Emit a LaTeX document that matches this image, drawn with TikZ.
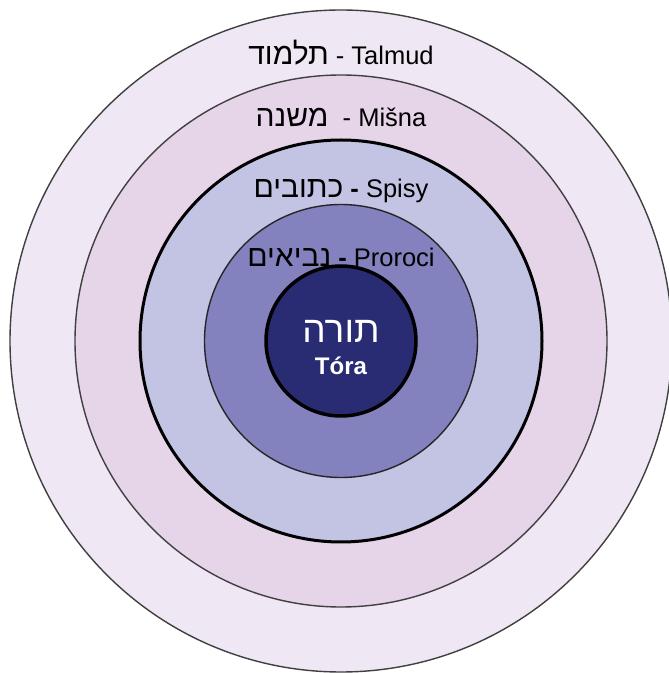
\documentclass[tikz,border=0pt]{standalone}
\usepackage{fontspec}
\setmainfont{Liberation Sans}
\newfontfamily\hebfont[Script=Hebrew]{Liberation Sans}
\TeXXeTstate=1
\definecolor{ringA}{HTML}{EFE7F4}
\definecolor{ringB}{HTML}{E6D4E8}
\definecolor{ringC}{HTML}{C3C3E3}
\definecolor{ringD}{HTML}{8381BE}
\definecolor{ringE}{HTML}{2A2C73}
\newcommand{\hebtxt}[1]{{\fontsize{30}{32}\selectfont\hebfont\beginR #1\endR}}
\tikzset{
  thinring/.style={draw=black!75, line width=1.4pt},
  thickring/.style={draw=black, line width=3pt},
  lbl/.style={anchor=base, inner sep=0pt, font=\fontsize{25.5}{28}\selectfont}
}
\begin{document}
\begin{tikzpicture}[x=1pt,y=1pt]
\useasboundingbox (0,0) rectangle (669,673);
\clip (0,0) rectangle (669,673);
\fill[white] (0,0) rectangle (669,673);
\coordinate (c) at (341,332);
\path[thinring, fill=ringA] (c) circle[radius=331];
\path[thinring, fill=ringB] (c) circle[radius=266];
\path[thickring, fill=ringC] (c) circle[radius=201];
\path[thinring, draw=black!85, fill=ringD] (c) circle[radius=136.5];
\path[thickring, line width=3.5pt, fill=ringE] (c) circle[radius=75];
\node[lbl] (talmud) at (341,608) {\hebtxt{תלמוד} - Talmud};
\node[lbl] (misna) at (341,546) {\hebtxt{משנה} \ - Mišna};
\node[lbl] (spisy) at (341,475) {\hebtxt{כתובים} \textbf{-} Spisy};
\node[lbl] (proroci) at (341,406) {\hebtxt{נביאים} \textbf{-} Proroci};
\node[anchor=base, inner sep=0pt, text=white, font=\fontsize{37}{40}\selectfont\hebfont] (torahe) at (341,330) {\beginR תורה\endR};
\node[anchor=base, inner sep=0pt, text=white, font=\fontsize{24}{26}\selectfont\bfseries] (tora) at (341,298) {Tóra};
\end{tikzpicture}
\end{document}
